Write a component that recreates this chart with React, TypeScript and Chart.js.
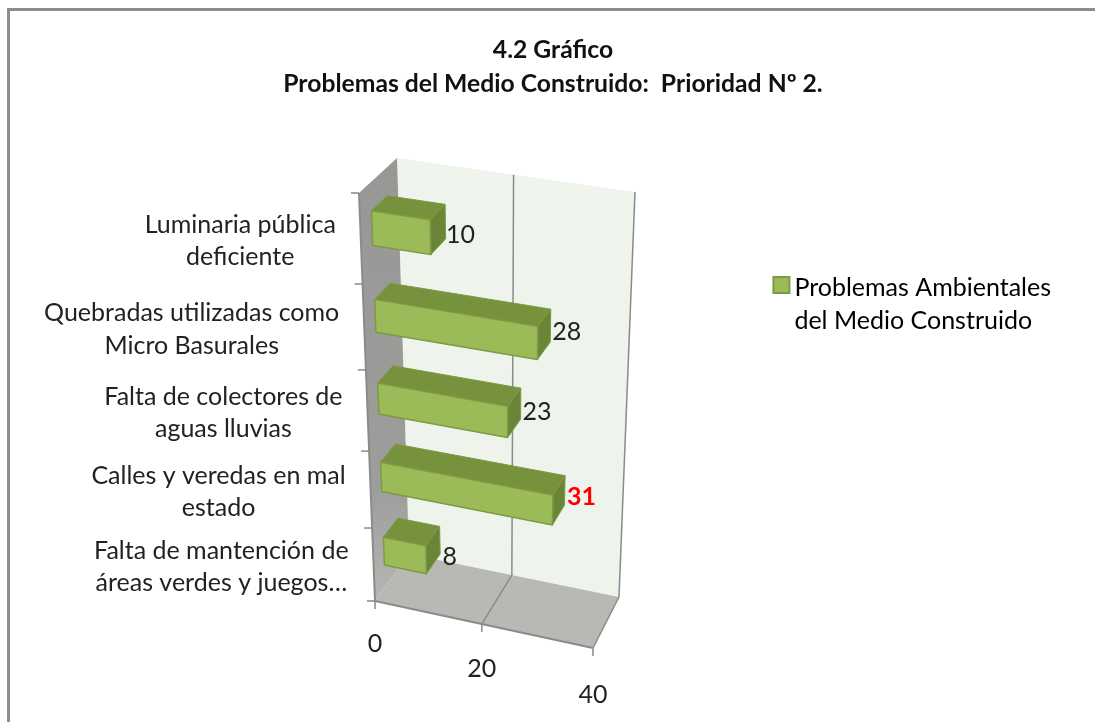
import React, { useEffect, useRef } from "react";
import { Chart, registerables } from "chart.js";

Chart.register(...registerables);

const categories = [
  ["Luminaria pública", "deficiente"],
  ["Quebradas utilizadas como", "Micro Basurales"],
  ["Falta de colectores de", "aguas lluvias"],
  ["Calles y veredas en mal", "estado"],
  ["Falta de mantención de", "áreas verdes y juegos…"],
];
const seriesValues = [10, 28, 23, 31, 8];
const seriesName = ["Problemas Ambientales", "del Medio Construido"];
const titleLines = ["4.2 Gráfico", "Problemas del Medio Construido:  Prioridad Nº 2."];
const highlightedValue = 31;

const FONT = "Lato, 'Open Sans', sans-serif";
const TEXT_SIZE = 25;
const TEXT = "#222222";
const LINE = "#8a8b89";
const GREEN = "#9bbb59";
const GREEN_EDGE = "#7d9a42";

// Projected corners of the 3-D box: front plane and back plane.
const FRONT = { tl: [359, 193], tr: [606, 230], bl: [375, 601], br: [593, 648] };
const BACK = { tl: [397, 158], tr: [635, 192], bl: [409, 554], br: [619, 597] };
const BAR_DEPTH = [0.3, 0.72];

const lerp = (a: number, b: number, k: number) => a + (b - a) * k;
const warp = (t: number, k: number) => (t * (1 + k)) / (1 + k * t);

function project(v: number, t: number, d: number): [number, number] {
  const c = warp(t, 0.148);
  const u = warp(v, -0.04);
  const out: [number, number] = [0, 0];
  for (let i = 0; i < 2; i++) {
    const top = lerp(lerp(FRONT.tl[i], FRONT.tr[i], u), lerp(BACK.tl[i], BACK.tr[i], u), d);
    const bot = lerp(lerp(FRONT.bl[i], FRONT.br[i], u), lerp(BACK.bl[i], BACK.br[i], u), d);
    out[i] = lerp(top, bot, c);
  }
  return out;
}

function poly(ctx: CanvasRenderingContext2D, pts: [number, number][], fill?: any, stroke?: string, lw = 1) {
  ctx.beginPath();
  pts.forEach((p, i) => (i ? ctx.lineTo(p[0], p[1]) : ctx.moveTo(p[0], p[1])));
  ctx.closePath();
  if (fill) {
    ctx.fillStyle = fill;
    ctx.fill();
  }
  if (stroke) {
    ctx.strokeStyle = stroke;
    ctx.lineWidth = lw;
    ctx.lineJoin = "round";
    ctx.stroke();
  }
}

function seg(ctx: CanvasRenderingContext2D, a: [number, number], b: [number, number], color: string, lw: number) {
  ctx.beginPath();
  ctx.moveTo(a[0], a[1]);
  ctx.lineTo(b[0], b[1]);
  ctx.strokeStyle = color;
  ctx.lineWidth = lw;
  ctx.stroke();
}

const framePlugin = {
  id: "frame",
  beforeDraw(chart: any) {
    const ctx = chart.ctx;
    ctx.save();
    ctx.fillStyle = "#ffffff";
    ctx.fillRect(0, 0, chart.width, chart.height);
    ctx.fillStyle = "#8c8c8c";
    ctx.fillRect(7, 8, chart.width - 7, 3);
    ctx.fillRect(7, 8, 3, chart.height - 8);
    ctx.restore();
  },
  afterDraw(chart: any) {
    // Legend swatch: sits closer to the text than the library's fixed gap allows.
    const hit = chart.legend.legendHitBoxes[0];
    const ctx = chart.ctx;
    const textLeft = hit.left + TEXT_SIZE / 2;
    ctx.save();
    ctx.fillStyle = GREEN;
    ctx.strokeStyle = GREEN_EDGE;
    ctx.lineWidth = 2;
    ctx.fillRect(textLeft - 21, hit.top + 2, 16, 16);
    ctx.strokeRect(textLeft - 21, hit.top + 2, 16, 16);
    ctx.restore();
  },
};

const box3dPlugin = {
  id: "box3d",
  beforeDatasetsDraw(chart: any) {
    const { ctx, chartArea: a, scales } = chart;
    const xs = scales.x;
    const ys = scales.y;
    const vOf = (px: number) => (px - a.left) / (a.right - a.left);
    const tOf = (py: number) => (py - a.top) / (a.bottom - a.top);
    ctx.save();

    // walls
    const wallGrad = ctx.createLinearGradient(0, 158, 0, 601);
    wallGrad.addColorStop(0, "#979896");
    wallGrad.addColorStop(0.75, "#9d9e9c");
    wallGrad.addColorStop(1, "#b6b7b4");
    poly(ctx, [project(0, 0, 1), project(1, 0, 1), project(1, 1, 1), project(0, 1, 1)], "#eef3ec");
    poly(ctx, [project(0, 0, 0), project(0, 0, 1), project(0, 1, 1), project(0, 1, 0)], wallGrad);
    poly(ctx, [project(0, 1, 0), project(1, 1, 0), project(1, 1, 1), project(0, 1, 1)], "#b8b9b5");

    // grid lines and value-axis ticks
    xs.ticks.forEach((tick: any) => {
      const v = vOf(xs.getPixelForValue(tick.value));
      if (v > 0) {
        seg(ctx, project(v, 0, 1), project(v, 1, 1), LINE, 1.5);
        seg(ctx, project(v, 1, 1), project(v, 1, 0), LINE, 1.5);
      }
      const f = project(v, 1, 0);
      seg(ctx, f, [f[0], f[1] + 8], LINE, 1.5);
    });
    seg(ctx, project(0, 1, 0), project(1, 1, 0), LINE, 2);
    seg(ctx, project(0, 0, 0), project(0, 1, 0), LINE, 2);

    // category ticks
    const n = ys.ticks.length;
    for (let i = 0; i <= n; i++) {
      const p = project(0, i / n, 0);
      seg(ctx, [p[0] - 8, p[1]], p, LINE, 1.5);
    }

    // bars
    const meta = chart.getDatasetMeta(0);
    const [d0, d1] = BAR_DEPTH;
    meta.data.forEach((bar: any) => {
      const { x, y, base, height } = bar.getProps(["x", "y", "base", "height"], true);
      const v0 = vOf(base);
      const v1 = vOf(x);
      const t0 = tOf(y - height / 2);
      const t1 = tOf(y + height / 2);
      poly(ctx, [project(v0, t0, d0), project(v1, t0, d0), project(v1, t0, d1), project(v0, t0, d1)], "#76923c", GREEN_EDGE, 1);
      poly(ctx, [project(v1, t0, d0), project(v1, t0, d1), project(v1, t1, d1), project(v1, t1, d0)], "#6a8538", GREEN_EDGE, 1);
      poly(ctx, [project(v0, t0, d0), project(v1, t0, d0), project(v1, t1, d0), project(v0, t1, d0)], GREEN, GREEN_EDGE, 1.5);
    });

    // text
    ctx.textAlign = "center";
    ctx.textBaseline = "middle";
    ctx.font = `${TEXT_SIZE}px ${FONT}`;
    ctx.fillStyle = TEXT;

    // value-axis labels
    xs.ticks.forEach((tick: any) => {
      const v = vOf(xs.getPixelForValue(tick.value));
      const f = project(v, 1, 0);
      ctx.fillText(String(tick.label), f[0], f[1] + 43 + 4 * v);
    });

    // category labels
    ys.ticks.forEach((tick: any) => {
      const lines = ([] as string[]).concat(ys.getLabelForValue(tick.value));
      const t = tOf(ys.getPixelForValue(tick.value));
      const p = project(0, t, 0);
      const w = Math.max(...lines.map((l) => ctx.measureText(l).width));
      const cx = p[0] - 25 - w / 2;
      const lh = 32.5;
      lines.forEach((l, i) => {
        ctx.fillText(l, cx, p[1] + 2 + (i - (lines.length - 1) / 2) * lh);
      });
    });

    // value labels
    meta.data.forEach((bar: any, i: number) => {
      const { x, y } = bar.getProps(["x", "y"], true);
      const value = seriesValues[i];
      const p = project(vOf(x), tOf(y), 0.5);
      const hot = value === highlightedValue;
      const last = i === meta.data.length - 1;
      const short = value <= 10;
      ctx.font = `${hot ? "bold " : ""}${TEXT_SIZE}px ${FONT}`;
      ctx.fillStyle = hot ? "#ff0000" : TEXT;
      ctx.fillText(String(value), p[0] + (last ? 17 : 23), p[1] + 7 - 0.35 * value + (short ? 2 : 0));
    });

    ctx.restore();
    return false;
  },
};

export default function App() {
  const ref = useRef<HTMLCanvasElement>(null);
  useEffect(() => {
    const chart = new Chart(ref.current as HTMLCanvasElement, {
      type: "bar",
      data: {
        labels: categories as any,
        datasets: [
          {
            label: seriesName.join(" "),
            data: seriesValues,
            backgroundColor: GREEN,
            borderColor: GREEN_EDGE,
            barPercentage: 0.385,
            categoryPercentage: 1,
          },
        ],
      },
      options: {
        indexAxis: "y",
        animation: false,
        responsive: false,
        layout: { padding: { left: 45, right: 34, top: 33, bottom: 139 } },
        scales: {
          x: { display: false, min: 0, max: 40, ticks: { stepSize: 20 } },
          y: { display: false, ticks: { autoSkip: false } },
        },
        plugins: {
          tooltip: { enabled: false },
          title: {
            display: true,
            text: titleLines,
            color: "#111111",
            font: { family: FONT, size: 24.7, weight: "bold", lineHeight: 1.376 },
            padding: { top: 0, bottom: 10 },
          },
          legend: {
            position: "right",
            labels: {
              boxWidth: 0,
              boxHeight: 0,
              color: TEXT,
              font: { family: FONT, size: TEXT_SIZE, lineHeight: 1.32 },
              padding: 10,
              generateLabels: () => [
                {
                  text: seriesName as any,
                  fillStyle: "rgba(0,0,0,0)",
                  strokeStyle: "rgba(0,0,0,0)",
                  lineWidth: 0,
                  datasetIndex: 0,
                },
              ],
            },
          },
        },
      },
      plugins: [framePlugin, box3dPlugin],
    } as any);
    return () => chart.destroy();
  }, []);
  return (
    <div style={{ position: "absolute", left: 0, top: 0, width: 1095, height: 722, overflow: "hidden", background: "#fff" }}>
      <canvas ref={ref} width={1095} height={722} style={{ display: "block", filter: "blur(0.45px)" }} />
    </div>
  );
}
